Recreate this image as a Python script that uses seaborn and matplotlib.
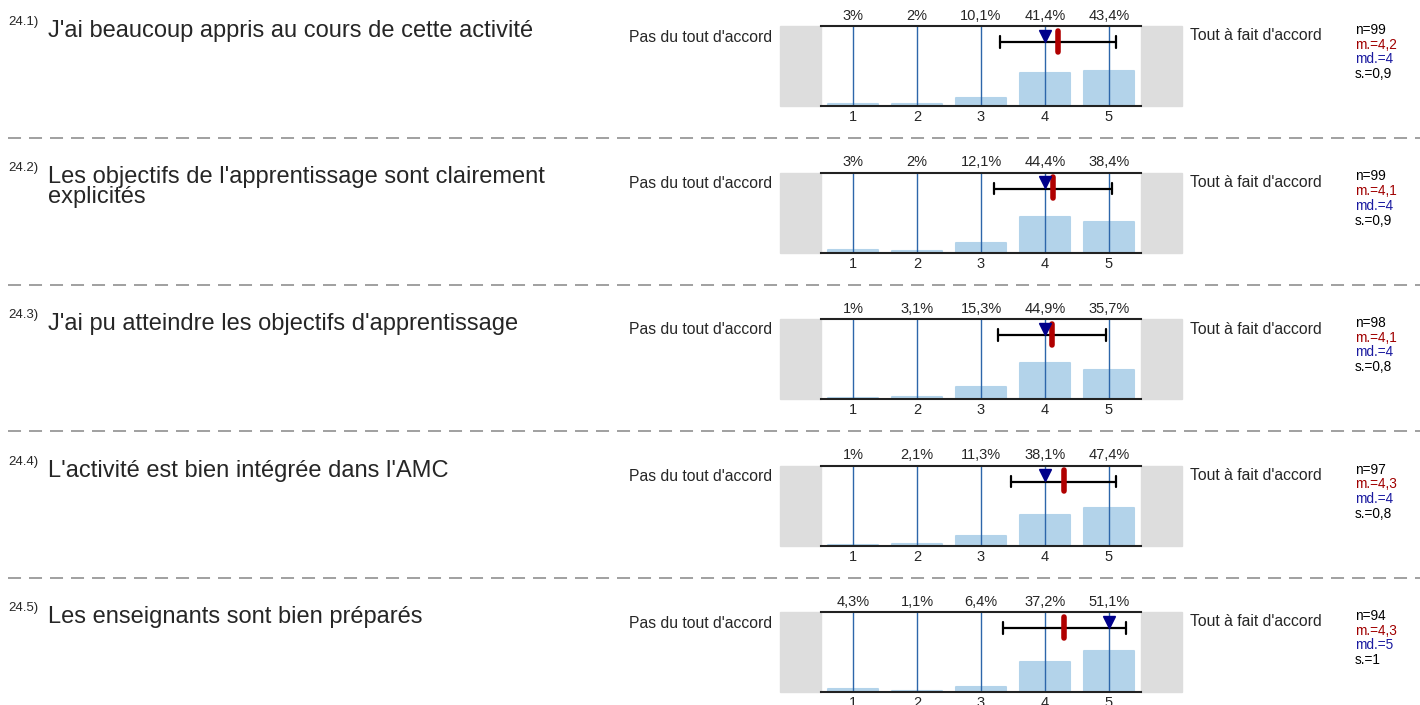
import numpy as np
import pandas as pd
import seaborn as sns
import matplotlib.pyplot as plt
from matplotlib.patches import Rectangle
from matplotlib.lines import Line2D

# === Dados ===
numeros = ["24.1)", "24.2)", "24.3)", "24.4)", "24.5)"]
perguntas = [
    "J'ai beaucoup appris au cours de cette activité",
    "Les objectifs de l'apprentissage sont clairement\nexplicités",
    "J'ai pu atteindre les objectifs d'apprentissage",
    "L'activité est bien intégrée dans l'AMC",
    "Les enseignants sont bien préparés",
]
categorias = ["1", "2", "3", "4", "5"]
pct_q1 = [3.0, 2.0, 10.1, 41.4, 43.4]
pct_q2 = [3.0, 2.0, 12.1, 44.4, 38.4]
pct_q3 = [1.0, 3.1, 15.3, 44.9, 35.7]
pct_q4 = [1.0, 2.1, 11.3, 38.1, 47.4]
pct_q5 = [4.3, 1.1, 6.4, 37.2, 51.1]
n_resp = [99, 99, 98, 97, 94]
medias = [4.20, 4.13, 4.11, 4.29, 4.30]
medianas = [4, 4, 4, 4, 5]
desvios = [0.91, 0.92, 0.84, 0.82, 0.96]
rotulo_esq = "Pas du tout d'accord"
rotulo_dir = "Tout à fait d'accord"

todas_pct = [pct_q1, pct_q2, pct_q3, pct_q4, pct_q5]

sns.set_style("white")
plt.rcParams['font.family'] = ['Liberation Sans', 'DejaVu Sans']

W, H = 1420, 705
fig = plt.figure(figsize=(W / 100, H / 100), dpi=100)


def fx(px):
    return px / W


def fy(py):
    return 1 - py / H


def fmt(v):
    s = f"{v:.1f}".replace(".", ",")
    if s.endswith(",0"):
        s = s[:-2]
    return s


cor_barra = "#b3d3ea"
cor_linha = "#2d66aa"
cor_cinza = "#dddddd"

passo = 146.5
for i, pct in enumerate(todas_pct):
    topo = 26 + passo * i
    ax = fig.add_axes([fx(821), fy(topo + 80), fx(320), 80 / H])
    df = pd.DataFrame({"cat": categorias, "pct": pct})
    sns.barplot(data=df, x="cat", y="pct", color=cor_barra, saturation=1,
                width=0.78, ax=ax, zorder=1)
    for p in ax.patches:
        p.set_edgecolor(cor_barra)
        p.set_linewidth(1.5)
        p.set_joinstyle("round")
    ax.set_xlim(-0.5, 4.5)
    ax.set_ylim(0, 100)
    for k in range(5):
        ax.axvline(k, color=cor_linha, lw=1, zorder=2)
    # caixas cinzas
    ax.add_patch(Rectangle((-0.5 - 41 / 64, 0), 41 / 64, 100, color=cor_cinza,
                           clip_on=False, zorder=0))
    ax.add_patch(Rectangle((4.5, 0), 41 / 64, 100, color=cor_cinza,
                           clip_on=False, zorder=0))
    # média +/- desvio padrão, mediana
    m = medias[i] - 1
    s = desvios[i]
    ax.plot([m - s, m + s], [80, 80], color="black", lw=1.6, zorder=3)
    for xx in (m - s, m + s):
        ax.plot([xx, xx], [73, 87], color="black", lw=1.6, zorder=3)
    ax.plot([m, m], [68, 94], color="#b00000", lw=4, solid_capstyle="round", zorder=4)
    ax.plot([medianas[i] - 1], [88], marker="v", color="#00008b", markersize=8,
            linestyle="none", zorder=5)
    # rótulos percentuais
    for k, v in enumerate(pct):
        ax.text(k, 104, fmt(v) + "%", ha="center", va="bottom", fontsize=10.5)
    sns.despine(ax=ax, left=True, right=True, top=False, bottom=False)
    for lado in ("top", "bottom"):
        ax.spines[lado].set_linewidth(1.5)
        ax.spines[lado].set_color("#222222")
    ax.set_yticks([])
    ax.set_xlabel("")
    ax.set_ylabel("")
    ax.tick_params(axis="x", length=0, pad=3, labelsize=10.5)

    # textos
    extra = 20 * perguntas[i].count("\n")
    fig.text(fx(8), fy(topo - 4), numeros[i], fontsize=9.5, ha="left", va="center")
    fig.text(fx(48), fy(topo + 11 + extra), perguntas[i], fontsize=17, ha="left",
             va="baseline", linespacing=0.9)
    fig.text(fx(772), fy(topo + 11), rotulo_esq, fontsize=11.3, ha="right", va="center")
    fig.text(fx(1190), fy(topo + 10), rotulo_dir, fontsize=11.3, ha="left", va="center")
    stats = [(f"n={n_resp[i]}", "black"),
             (f"m.={fmt(round(medias[i], 1))}", "#a00000"),
             (f"md.={medianas[i]}", "#1a1aa0"),
             (f"s.={fmt(round(desvios[i], 1))}", "black")]
    for j, (t, c) in enumerate(stats):
        fig.text(fx(1355), fy(topo + 4 + 14.7 * j), t, fontsize=9.8, color=c,
                 ha="left", va="center")

    if i < 4:
        yl = fy(topo + 112)
        fig.add_artist(Line2D([fx(8), 1], [yl, yl], transform=fig.transFigure,
                              color="#a0a0a0", lw=1.4, linestyle=(0, (6.7, 4.1))))

fig.savefig("out.png", dpi=100)
